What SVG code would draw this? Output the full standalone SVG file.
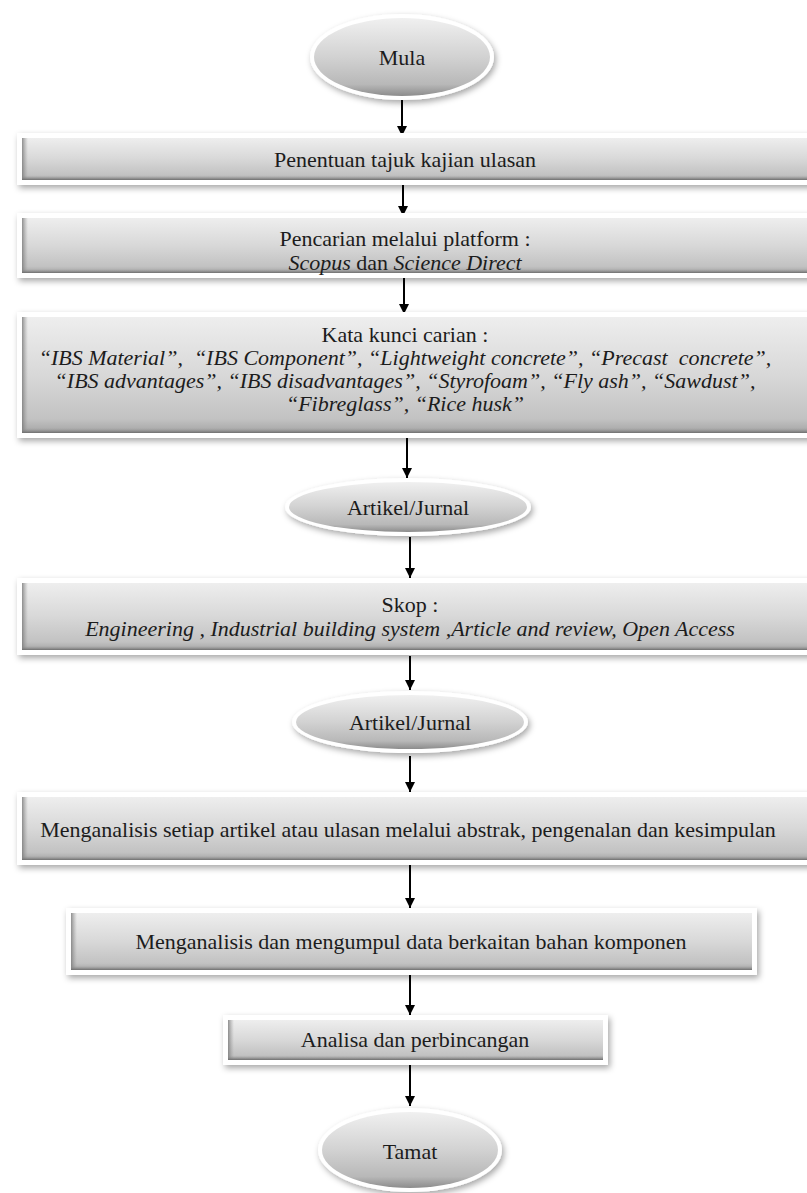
<svg xmlns="http://www.w3.org/2000/svg" width="807" height="1193" viewBox="0 0 807 1193">
<defs>
<style>
text{font-family:"Liberation Serif","Times New Roman",serif;font-size:22px;fill:#1c1c1c;text-anchor:middle}
.i{font-style:italic}
.outer{fill:#fff;filter:url(#sh)}
.inner{fill:url(#gb)}
.edge{fill:url(#gl)}
.bot{fill:url(#gbot)}
.eouter{fill:#fff;filter:url(#sh)}
.einner{fill:url(#ge)}
.conn line{stroke:#000;stroke-width:2;marker-end:url(#ah)}
</style>
<filter id="sh" x="-10%" y="-30%" width="120%" height="160%">
<feDropShadow dx="2" dy="3" stdDeviation="3" flood-color="#000" flood-opacity="0.35"/>
</filter>
<linearGradient id="gb" x1="0" y1="0" x2="0" y2="1">
<stop offset="0" stop-color="#eeeeee"/>
<stop offset="0.5" stop-color="#d8d8d8"/>
<stop offset="0.88" stop-color="#c2c2c2"/>
<stop offset="1" stop-color="#a4a4a4"/>
</linearGradient>
<linearGradient id="gbot" x1="0" y1="0" x2="0" y2="1">
<stop offset="0" stop-color="#999" stop-opacity="0"/>
<stop offset="1" stop-color="#6e6e6e"/>
</linearGradient>
<linearGradient id="gl" x1="0" y1="0" x2="1" y2="0">
<stop offset="0" stop-color="#777" stop-opacity="0.8"/>
<stop offset="1" stop-color="#999" stop-opacity="0"/>
</linearGradient>
<linearGradient id="ge" x1="0" y1="0" x2="0" y2="1">
<stop offset="0" stop-color="#f0f0f0"/>
<stop offset="0.5" stop-color="#d2d2d2"/>
<stop offset="0.85" stop-color="#b8b8b8"/>
<stop offset="1" stop-color="#8c8c8c"/>
</linearGradient>
<marker id="ah" viewBox="0 0 10 10" refX="10" refY="5" markerWidth="5" markerHeight="5" markerUnits="strokeWidth" orient="auto">
<path d="M0,0 L10,5 L0,10 z" fill="#000"/>
</marker>
</defs>
<rect width="807" height="1193" fill="#fff"/>

<g class="conn" id="connectors">
<line x1="402" y1="100" x2="402" y2="136"/>
<line x1="403" y1="185" x2="403" y2="216"/>
<line x1="404" y1="278" x2="404" y2="314"/>
<line x1="407" y1="438" x2="407" y2="478"/>
<line x1="410" y1="537" x2="410" y2="578"/>
<line x1="410" y1="656" x2="410" y2="690"/>
<line x1="410" y1="756" x2="410" y2="792"/>
<line x1="410" y1="865" x2="410" y2="908"/>
<line x1="410" y1="975" x2="410" y2="1015"/>
<line x1="410" y1="1065" x2="410" y2="1106"/>
</g>

<g id="mula">
<ellipse class="eouter" cx="402" cy="57" rx="92" ry="43"/>
<ellipse class="einner" cx="402" cy="57" rx="88" ry="39"/>
<text x="402" y="65">Mula</text>
</g>

<g id="penentuan">
<rect class="outer" x="17" y="133" width="800" height="52"/>
<rect class="inner" x="22" y="138" width="795" height="42"/>
<rect class="edge" x="22" y="138" width="6" height="42"/>
<rect class="bot" x="22" y="176" width="795" height="4"/>
<text x="405" y="167">Penentuan tajuk kajian ulasan</text>
</g>

<g id="pencarian">
<rect class="outer" x="17" y="213" width="800" height="65"/>
<rect class="inner" x="22" y="218" width="795" height="55"/>
<rect class="edge" x="22" y="218" width="6" height="55"/>
<rect class="bot" x="22" y="269" width="795" height="4"/>
<text x="405" y="246">Pencarian melalui platform :</text>
<text x="405" y="270"><tspan class="i">Scopus</tspan> dan <tspan class="i">Science Direct</tspan></text>
</g>

<g id="katakunci">
<rect class="outer" x="17" y="312" width="800" height="126"/>
<rect class="inner" x="22" y="317" width="795" height="116"/>
<rect class="edge" x="22" y="317" width="6" height="116"/>
<rect class="bot" x="22" y="428" width="795" height="5"/>
<text x="405" y="342">Kata kunci carian :</text>
<text class="i" x="405" y="365">“IBS Material”, &#160;“IBS Component”, “Lightweight concrete”, “Precast &#160;concrete”,</text>
<text class="i" x="405" y="388">“IBS advantages”, “IBS disadvantages”, “Styrofoam”, “Fly ash”, “Sawdust”,</text>
<text class="i" x="405" y="411">“Fibreglass”, “Rice husk”</text>
</g>

<g id="artikel1">
<ellipse class="eouter" cx="408" cy="507" rx="123" ry="29"/>
<ellipse class="einner" cx="408" cy="507" rx="119" ry="25"/>
<text x="408" y="515">Artikel/Jurnal</text>
</g>

<g id="skop">
<rect class="outer" x="17" y="578" width="800" height="77"/>
<rect class="inner" x="22" y="583" width="795" height="67"/>
<rect class="edge" x="22" y="583" width="6" height="67"/>
<rect class="bot" x="22" y="646" width="795" height="4"/>
<text x="410" y="612">Skop :</text>
<text class="i" x="410" y="636">Engineering , Industrial building system ,Article and review, Open Access</text>
</g>

<g id="artikel2">
<ellipse class="eouter" cx="410" cy="722" rx="118" ry="31"/>
<ellipse class="einner" cx="410" cy="722" rx="114" ry="27"/>
<text x="410" y="730">Artikel/Jurnal</text>
</g>

<g id="menganalisis1">
<rect class="outer" x="17" y="792" width="800" height="73"/>
<rect class="inner" x="22" y="797" width="795" height="63"/>
<rect class="edge" x="22" y="797" width="6" height="63"/>
<rect class="bot" x="22" y="856" width="795" height="4"/>
<text x="408" y="837">Menganalisis setiap artikel atau ulasan melalui abstrak, pengenalan dan kesimpulan</text>
</g>

<g id="menganalisis2">
<rect class="outer" x="66" y="908" width="691" height="67"/>
<rect class="inner" x="71" y="913" width="681" height="57"/>
<rect class="edge" x="71" y="913" width="6" height="57"/>
<rect class="bot" x="71" y="966" width="681" height="4"/>
<text x="411" y="949">Menganalisis dan mengumpul data berkaitan bahan komponen</text>
</g>

<g id="analisa">
<rect class="outer" x="223" y="1015" width="385" height="50"/>
<rect class="inner" x="228" y="1020" width="375" height="40"/>
<rect class="edge" x="228" y="1020" width="6" height="40"/>
<rect class="bot" x="228" y="1056" width="375" height="4"/>
<text x="415" y="1047">Analisa dan perbincangan</text>
</g>

<g id="tamat">
<ellipse class="eouter" cx="410" cy="1150" rx="92" ry="42"/>
<ellipse class="einner" cx="410" cy="1150" rx="88" ry="38"/>
<text x="410" y="1159">Tamat</text>
</g>
</svg>
